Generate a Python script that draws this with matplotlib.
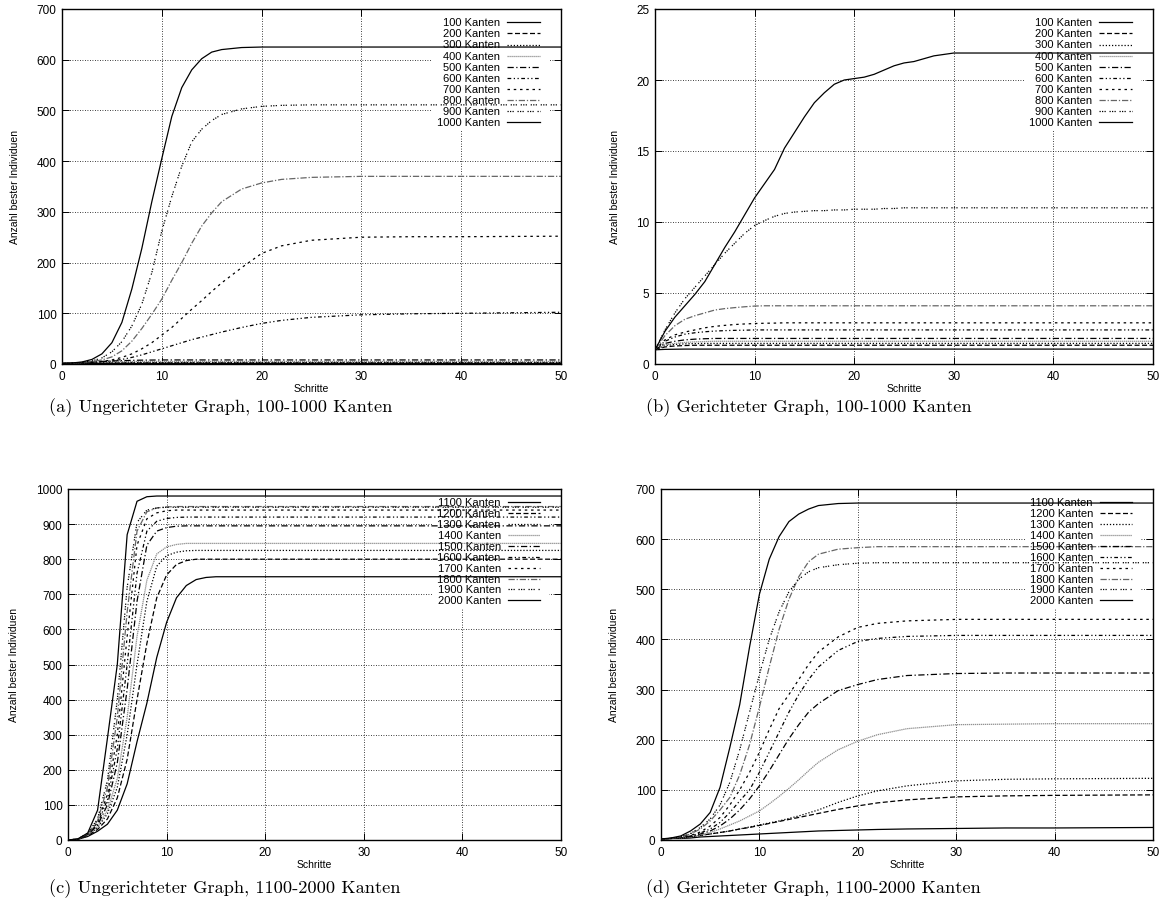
import matplotlib
matplotlib.use("Agg")
import matplotlib.pyplot as plt
from matplotlib.patches import Rectangle

# ---- Daten ----
labels_ab = ["100 Kanten", "200 Kanten", "300 Kanten", "400 Kanten", "500 Kanten",
             "600 Kanten", "700 Kanten", "800 Kanten", "900 Kanten", "1000 Kanten"]
labels_cd = ["1100 Kanten", "1200 Kanten", "1300 Kanten", "1400 Kanten", "1500 Kanten",
             "1600 Kanten", "1700 Kanten", "1800 Kanten", "1900 Kanten", "2000 Kanten"]

# (a) ungerichtet, 100-1000
schritte_a = [0, 1, 2, 3, 4, 5, 6, 7, 8, 9, 10, 11, 12, 13, 14, 15, 16, 18, 20, 22, 25, 30, 35, 40, 50]
werte_a = [
    [1, 1, 1, 1, 1, 1, 1, 1, 1, 1, 1, 1, 1, 1, 1, 1, 1, 1, 1, 1, 1, 1, 1, 1, 1],
    [1, 1.3, 1.6, 1.8, 1.9, 2, 2, 2, 2, 2, 2, 2, 2, 2, 2, 2, 2, 2, 2, 2, 2, 2, 2, 2, 2],
    [1, 1.5, 2, 2.4, 2.7, 2.9, 3, 3, 3, 3, 3, 3, 3, 3, 3, 3, 3, 3, 3, 3, 3, 3, 3, 3, 3],
    [1, 1.8, 2.6, 3.3, 3.9, 4.3, 4.6, 4.8, 5, 5, 5, 5, 5, 5, 5, 5, 5, 5, 5, 5, 5, 5, 5, 5, 5],
    [1, 2, 3, 4.2, 5.2, 6, 6.7, 7.2, 7.6, 7.8, 8, 8, 8, 8, 8, 8, 8, 8, 8, 8, 8, 8, 8, 8, 8],
    [1, 1.5, 2, 3, 4, 6, 9, 13, 18, 24, 30, 36, 42, 48, 53, 58, 63, 72, 80, 86, 92, 97, 99, 100, 102],
    [1, 1.5, 2.5, 3.5, 5, 8, 13, 20, 30, 42, 57, 72, 90, 108, 125, 143, 160, 190, 218, 233, 244, 250, 251, 251, 252],
    [1, 2, 3, 5, 8, 14, 26, 45, 70, 98, 128, 165, 200, 238, 272, 298, 320, 345, 357, 364, 368, 370, 370, 370, 370],
    [1, 2, 3, 6, 12, 24, 44, 75, 118, 180, 262, 330, 390, 438, 463, 480, 492, 503, 508, 510, 511, 511, 511, 511, 511],
    [1, 2, 4, 9, 20, 42, 82, 148, 228, 320, 405, 488, 545, 580, 602, 615, 620, 624, 625, 625, 625, 625, 625, 625, 625],
]

# (b) gerichtet, 100-1000
schritte_b = list(range(0, 31)) + [35, 40, 50]
werte_b = [
    [1, 1.03, 1.04] + [1.05] * 31,
    [1, 1.2, 1.27, 1.3] + [1.32] * 30,
    [1, 1.3, 1.38, 1.42, 1.44] + [1.45] * 29,
    [1, 1.35, 1.45, 1.52, 1.56, 1.58] + [1.6] * 28,
    [1, 1.45, 1.6, 1.7, 1.75, 1.78] + [1.8] * 28,
    [1, 1.6, 1.9, 2.1, 2.2, 2.27, 2.32, 2.35, 2.37, 2.38] + [2.4] * 24,
    [1, 1.7, 2.05, 2.25, 2.4, 2.55, 2.65, 2.72, 2.78, 2.82, 2.85, 2.87, 2.88] + [2.9] * 21,
    [1, 2.0, 2.7, 3.15, 3.4, 3.6, 3.8, 3.9, 3.97, 4.03, 4.08] + [4.1] * 23,
    [1, 2.4, 3.6, 4.6, 5.4, 6.2, 7.0, 7.8, 8.5, 9.2, 9.75, 10.1, 10.4, 10.6, 10.7, 10.75, 10.8,
     10.8, 10.85, 10.85, 10.9, 10.9, 10.9, 10.95, 10.95, 11, 11, 11, 11, 11, 11, 11, 11, 11],
    [1, 2.3, 3.3, 4.1, 4.9, 5.8, 7.0, 8.2, 9.3, 10.5, 11.7, 12.7, 13.7, 15.2, 16.3, 17.4, 18.4,
     19.1, 19.7, 20.0, 20.1, 20.2, 20.4, 20.7, 21.0, 21.2, 21.3, 21.5, 21.7, 21.8, 21.9, 21.9, 21.9, 21.9],
]

# (c) ungerichtet, 1100-2000
schritte_c = [0, 1, 2, 3, 4, 5, 6, 7, 8, 9, 10, 11, 12, 13, 14, 15, 16, 18, 20, 30, 40, 50]
werte_c = [
    [0, 2, 10, 25, 45, 85, 160, 280, 390, 520, 620, 690, 725, 742, 748, 750, 750, 750, 750, 750, 750, 750],
    [0, 2, 12, 30, 60, 120, 230, 400, 560, 690, 755, 785, 796, 800, 800, 800, 800, 800, 800, 800, 800, 800],
    [0, 2, 13, 35, 75, 150, 300, 500, 680, 780, 810, 820, 824, 825, 825, 825, 825, 825, 825, 825, 825, 825],
    [0, 2, 14, 38, 85, 175, 350, 580, 740, 815, 835, 842, 845, 845, 845, 845, 845, 845, 845, 845, 845, 845],
    [0, 2, 15, 42, 100, 220, 430, 680, 840, 880, 890, 894, 895, 895, 895, 895, 895, 895, 895, 895, 895, 895],
    [0, 2, 16, 46, 115, 260, 500, 760, 880, 908, 916, 919, 920, 920, 920, 920, 920, 920, 920, 920, 920, 920],
    [0, 2, 17, 50, 130, 300, 580, 840, 915, 932, 938, 940, 940, 940, 940, 940, 940, 940, 940, 940, 940, 940],
    [0, 3, 18, 55, 150, 350, 650, 880, 935, 946, 949, 950, 950, 950, 950, 950, 950, 950, 950, 950, 950, 950],
    [0, 3, 19, 60, 170, 400, 720, 905, 940, 946, 948, 948, 948, 948, 948, 948, 948, 948, 948, 948, 948, 948],
    [0, 3, 20, 85, 290, 500, 870, 965, 978, 980, 980, 980, 980, 980, 980, 980, 980, 980, 980, 980, 980, 980],
]

# (d) gerichtet, 1100-2000
schritte_d = [0, 1, 2, 3, 4, 5, 6, 7, 8, 9, 10, 11, 12, 13, 14, 15, 16, 18, 20, 22, 25, 30, 35, 40, 50]
werte_d = [
    [2, 3, 3, 4, 6, 7, 8, 9, 10, 11, 12, 13, 14, 15, 16, 17, 18, 19, 20, 21, 22, 23, 24, 24, 25],
    [2, 3, 4, 6, 9, 12, 15, 18, 22, 25, 29, 33, 37, 41, 45, 49, 53, 61, 68, 74, 80, 86, 88, 89, 90],
    [2, 3, 4, 6, 9, 12, 15, 18, 22, 26, 30, 34, 38, 43, 48, 54, 60, 75, 88, 98, 108, 118, 121, 122, 123],
    [2, 3, 4, 6, 10, 15, 22, 30, 38, 48, 58, 72, 87, 103, 120, 138, 155, 180, 197, 210, 222, 230, 231, 232, 232],
    [2, 3, 4, 7, 12, 18, 28, 42, 60, 82, 108, 138, 170, 202, 230, 255, 272, 298, 310, 320, 328, 332, 333, 333, 333],
    [2, 3, 5, 8, 14, 22, 35, 55, 78, 100, 135, 175, 215, 255, 290, 320, 345, 378, 396, 402, 406, 408, 408, 408, 408],
    [2, 3, 5, 9, 16, 28, 45, 70, 100, 135, 175, 220, 262, 290, 320, 350, 375, 405, 424, 432, 437, 440, 440, 440, 440],
    [2, 3, 6, 12, 22, 38, 60, 85, 130, 190, 265, 345, 420, 480, 525, 555, 570, 580, 583, 585, 585, 585, 585, 585, 585],
    [2, 3, 6, 13, 25, 42, 70, 115, 180, 255, 330, 400, 455, 495, 520, 535, 543, 549, 552, 553, 553, 553, 553, 553, 553],
    [2, 4, 8, 18, 32, 55, 105, 185, 270, 385, 490, 560, 605, 635, 650, 660, 667, 671, 672, 672, 672, 672, 672, 672, 672],
]

# gnuplot-artige Linientypen (Farbe, Strichmuster)
stile = [
    ("black", "-"),
    ("black", (0, (4, 2))),
    ("black", (0, (1, 1.5))),
    ("0.55", (0, (1, 0.6))),
    ("black", (0, (5, 2, 1, 2))),
    ("black", (0, (3, 2, 1, 2, 1, 2))),
    ("black", (0, (2, 3))),
    ("0.4", (0, (5, 1.5, 1, 1.5))),
    ("black", (0, (1, 1, 1, 1, 1, 3))),
    ("black", "-"),
]

plt.rcParams['font.family'] = ['Liberation Sans', 'DejaVu Sans']

fig = plt.figure(figsize=(11.65, 9.2), dpi=100)

# Achsenposition, Daten, Legende, y-Maximum, y-Schritt, Unterschrift, Unterschrift-Mitte (x, y in px)
panels = [
    ([62 / 1165, 1 - 365 / 920, 499 / 1165, 355 / 920], schritte_a, werte_a, labels_ab, 700, 100,
     "(a) Ungerichteter Graph, 100-1000 Kanten", (221, 408)),
    ([655 / 1165, 1 - 365 / 920, 498 / 1165, 355 / 920], schritte_b, werte_b, labels_ab, 25, 5,
     "(b) Gerichteter Graph, 100-1000 Kanten", (809, 408)),
    ([68 / 1165, 1 - 841 / 920, 493 / 1165, 351 / 920], schritte_c, werte_c, labels_cd, 1000, 100,
     "(c) Ungerichteter Graph, 1100-2000 Kanten", (225, 889)),
    ([661 / 1165, 1 - 841 / 920, 492 / 1165, 351 / 920], schritte_d, werte_d, labels_cd, 700, 100,
     "(d) Gerichteter Graph, 1100-2000 Kanten", (813, 889)),
]

for pos, xs, reihen, labels, ymax, ystep, caption, cpos in panels:
    ax = fig.add_axes(pos)
    ax.set_xlim(0, 50)
    ax.set_ylim(0, ymax)
    ax.set_xticks(range(0, 51, 10))
    ax.set_yticks(range(0, ymax + 1, ystep))
    ax.set_axisbelow(True)
    ax.grid(True, color="black", linestyle=(0, (1, 2)), linewidth=0.6)
    ax.tick_params(direction="in", top=True, right=True, length=5, width=0.7,
                   labelsize=8.5, pad=4)
    for sp in ax.spines.values():
        sp.set_linewidth(1.0)
    ax.set_xlabel("Schritte", fontsize=7.5, labelpad=1)
    ax.set_ylabel("Anzahl bester Individuen", fontsize=7.5, labelpad=12)

    # Hintergrund der Legende verdeckt das Gitter (wie bei gnuplot)
    ax.add_patch(Rectangle((0.74, 0.66), 0.235, 0.34, transform=ax.transAxes,
                           facecolor="white", edgecolor="none", zorder=1))

    for i, (ys, lab) in enumerate(zip(reihen, labels)):
        farbe, muster = stile[i]
        ax.plot(xs, ys, color=farbe, linestyle=muster, linewidth=0.9, zorder=3)
        yl = 0.962 - i * 0.031
        ax.text(0.878, yl, lab, transform=ax.transAxes, ha="right", va="center",
                fontsize=8, zorder=4)
        ax.plot([0.892, 0.958], [yl, yl], transform=ax.transAxes, color=farbe,
                linestyle=muster, linewidth=0.9, zorder=4)

    fig.text(cpos[0] / 1165, 1 - cpos[1] / 920, caption, ha="center", va="center",
             fontsize=13.2, family="cmr10")

fig.savefig("out.png", dpi=100)
